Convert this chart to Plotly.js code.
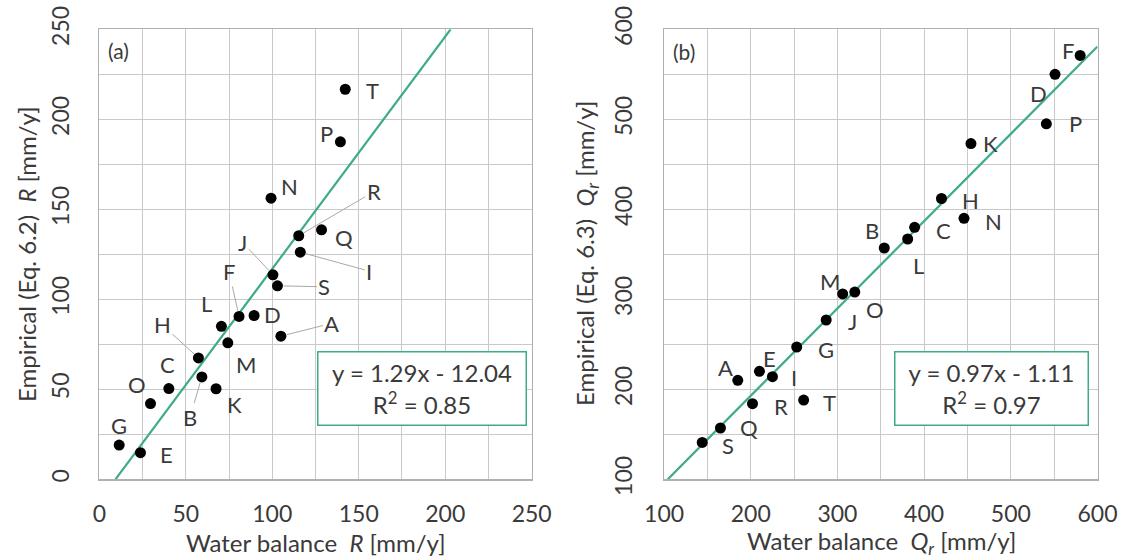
<!DOCTYPE html>
<html><head><meta charset="utf-8">
<script src="https://cdn.plot.ly/plotly-3.0.1.min.js"></script>
<style>html,body{margin:0;padding:0;background:#fff}#chart{width:1125px;height:560px}</style>
</head><body><div id="chart"></div>
<script>
// ---- data ----
const siteLabels = ['A','B','C','D','E','F','G','H','I','J','K','L','M','N','O','P','Q','R','S','T'];
// panel (a): recharge R
const rWaterBalance = [105.0, 59.3, 40.2, 89.5, 23.8, 80.8, 11.5, 57.3, 116.2, 100.4, 67.5, 70.6, 74.3, 99.3, 29.6, 139.4, 128.5, 115.3, 103.0, 142.2];
const rEmpirical    = [79.5, 56.9, 50.4, 91.0, 14.8, 90.5, 19.0, 67.4, 126.2, 113.6, 50.3, 85.0, 75.8, 156.2, 42.1, 187.5, 138.6, 135.3, 107.5, 216.7];
// panel (b): Qr
const qWaterBalance = [185, 354, 389, 551, 210, 580, 253, 420, 225, 287, 454, 381, 306, 446, 320, 541, 165, 202, 144, 261];
const qEmpirical    = [210, 357, 380, 550, 220, 571, 247, 412, 214, 277, 473, 367, 306, 390, 308, 495, 157, 184, 141, 188];
// regression
const fitSlope = [1.29, 0.97];
const fitIntercept = [-12.04, -1.11];
const fitR2 = [0.85, 0.97];
// axes
const rAxisRange = [0, 250];
const qAxisRange = [100, 600];
const panelTags = ['(a)', '(b)'];

// ---- label placement (px offsets, leader flag) ----
const labA = {
  A:[51,-13,1], B:[-12,41,1], C:[-1,-24,0], D:[18,-1,0], E:[26,2,0], F:[-10,-45,1], G:[0,-20,0],
  H:[-36,-33,1], I:[69,19,1], J:[-30,-32,1], K:[18,16,0], L:[-15,-23,0], M:[18,22,0], N:[18,-12,0],
  O:[-14,-19,0], P:[-14,-8,0], Q:[22,8,0], R:[75,-44,1], S:[47,1,1], T:[27,1,0]
};
const labB = {
  A:[-12,-13,0], B:[-12,-18,0], C:[29,3,0], D:[-17,19,0], E:[10,-13,0], F:[-12,-5,0], G:[29,2,0],
  H:[29,2,0], I:[22,1,0], J:[26,1,0], K:[20,0,0], L:[11,26,0], M:[-13,-12,0], N:[29,3,0],
  O:[20,17,0], P:[29,0,0], Q:[29,-1,0], R:[28,3,0], S:[26,3,0], T:[26,2,0]
};

const FONT = 'Lato, "Open Sans", sans-serif';
const TXT = '#3a3a3a';
const TEAL = '#3dab8c';
const GRID = '#c9c9c9';
const FS = 23;

function fitLine(k, range) {
  const m = fitSlope[k], b = fitIntercept[k];
  let x0 = range[0], x1 = range[1];
  const xs = [(range[0]-b)/m, (range[1]-b)/m];
  x0 = Math.max(x0, Math.min(xs[0], xs[1]));
  x1 = Math.min(x1, Math.max(xs[0], xs[1]));
  return {x:[x0, x1], y:[m*x0+b, m*x1+b]};
}

const la = fitLine(0, rAxisRange), lb = fitLine(1, qAxisRange);
const traces = [
  {x: la.x, y: la.y, mode:'lines', line:{color:TEAL, width:2.2}, xaxis:'x', yaxis:'y', hoverinfo:'skip'},
  {x: rWaterBalance, y: rEmpirical, mode:'markers', marker:{color:'#000', size:11}, xaxis:'x', yaxis:'y', text: siteLabels},
  {x: lb.x, y: lb.y, mode:'lines', line:{color:TEAL, width:2.2}, xaxis:'x2', yaxis:'y2', hoverinfo:'skip'},
  {x: qWaterBalance, y: qEmpirical, mode:'markers', marker:{color:'#000', size:11}, xaxis:'x2', yaxis:'y2', text: siteLabels}
];

const annotations = [];
function addLabels(xs, ys, lab, xr, yr) {
  siteLabels.forEach((s, i) => {
    const [dx, dy, lead] = lab[s];
    const a = {x: xs[i], y: ys[i], xref: xr, yref: yr, text: s,
      font:{family:FONT, size:FS-1, color:TXT}};
    if (lead) {
      Object.assign(a, {showarrow:true, arrowhead:0, arrowwidth:1, arrowcolor:'#a8a8a8', ax:dx, ay:dy, standoff:6});
    } else {
      Object.assign(a, {showarrow:false, xshift:dx, yshift:-dy});
    }
    annotations.push(a);
  });
}
addLabels(rWaterBalance, rEmpirical, labA, 'x', 'y');
addLabels(qWaterBalance, qEmpirical, labB, 'x2', 'y2');

function eqText(k) {
  const b = fitIntercept[k];
  return 'y = ' + fitSlope[k].toFixed(2) + 'x ' + (b < 0 ? '- ' : '+ ') + Math.abs(b).toFixed(2) +
    '<br>R<sup>2</sup> = ' + fitR2[k].toFixed(2);
}
annotations.push({xref:'paper', yref:'paper', x:422/1125, y:1-388/560, xanchor:'center', yanchor:'middle',
  text: eqText(0), showarrow:false, bordercolor:TEAL, borderwidth:1.5, bgcolor:'#fff', width:205, height:70,
  font:{family:FONT, size:FS+1, color:TXT}});
annotations.push({xref:'paper', yref:'paper', x:991.7/1125, y:1-388/560, xanchor:'center', yanchor:'middle',
  text: eqText(1), showarrow:false, bordercolor:TEAL, borderwidth:1.5, bgcolor:'#fff', width:190, height:70,
  font:{family:FONT, size:FS+1, color:TXT}});
annotations.push({xref:'paper', yref:'paper', x:118/1125, y:1-50/560, xanchor:'center', yanchor:'middle',
  text: panelTags[0], showarrow:false, font:{family:FONT, size:FS-2, color:TXT}});
annotations.push({xref:'paper', yref:'paper', x:684/1125, y:1-51/560, xanchor:'center', yanchor:'middle',
  text: panelTags[1], showarrow:false, font:{family:FONT, size:FS-2, color:TXT}});
const titles = [
  {x:315.5, y:542, a:0, t:'Water balance  <i>R</i> [mm/y]'},
  {x:881, y:542, a:0, t:'Water balance  <i>Q</i><sub><i>r</i></sub> [mm/y]'},
  {x:27, y:254, a:-90, t:'Empirical (Eq. 6.2)  <i>R</i> [mm/y]'},
  {x:587, y:254, a:-90, t:'Empirical (Eq. 6.3)  <i>Q</i><sub><i>r</i></sub> [mm/y]'}
];
titles.forEach(o => annotations.push({xref:'paper', yref:'paper', x:o.x/1125, y:1-o.y/560,
  xanchor:'center', yanchor:'middle', textangle:o.a, text:o.t, showarrow:false,
  font:{family:FONT, size:FS+1, color:TXT}}));

function ax(domain, range, dtick, minor, anchor, isY, standoff) {
  return {domain, range, dtick, tick0: range[0], anchor, showgrid:true, gridcolor:GRID, gridwidth:1,
    minor:{dtick:minor, showgrid:true, gridcolor:GRID, gridwidth:1, ticks:''},
    zeroline:false, showline:true, mirror:true, linecolor:'#b0b0b0', linewidth:1.2, ticks:'',
    tickangle: isY ? -90 : 0, ticklabelstandoff: standoff,
    tickfont:{family:FONT, size:FS, color:TXT}, fixedrange:true};
}
const yDom = [1-479.3/560, 1-29.3/560];
const layout = {
  width:1125, height:560, margin:{l:0, r:0, t:0, b:0}, showlegend:false,
  paper_bgcolor:'#fff', plot_bgcolor:'#fff',
  xaxis: ax([99.3/1125, 531.7/1125], rAxisRange, 50, 25, 'y', false, 14),
  yaxis: ax(yDom, rAxisRange, 50, 25, 'x', true, 20),
  xaxis2: ax([664.1/1125, 1097.5/1125], qAxisRange, 100, 50, 'y2', false, 14),
  yaxis2: ax(yDom, qAxisRange, 100, 50, 'x2', true, 22),
  annotations
};
Plotly.newPlot('chart', traces, layout, {staticPlot:true, displayModeBar:false});
</script></body></html>
